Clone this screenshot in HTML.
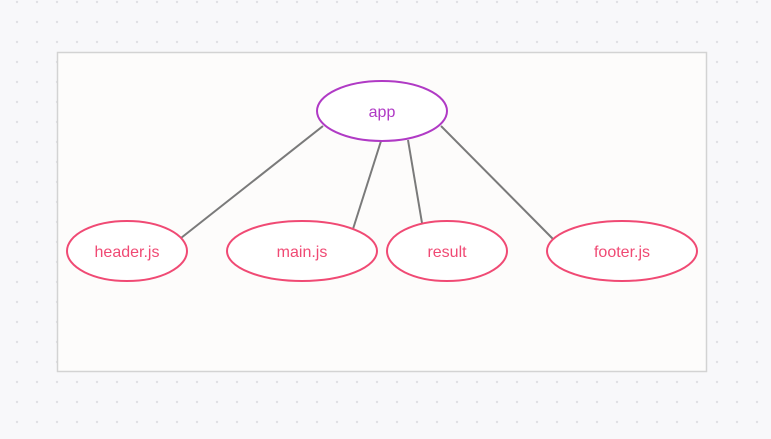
<!DOCTYPE html>
<html><head><style>body{margin:0;background:#f8f8fa}</style></head><body>
<svg width="771" height="439" xmlns="http://www.w3.org/2000/svg" style="display:block">
<defs><pattern id="d" x="7" y="-8" width="20" height="20" patternUnits="userSpaceOnUse"><circle cx="10" cy="10" r="1.2" fill="#e0e0e4"/></pattern></defs>
<rect width="771" height="439" fill="#f8f8fa"/>
<rect width="771" height="439" fill="url(#d)"/>
<rect x="57.5" y="52.5" width="649" height="319" fill="#fdfcfb" stroke="#d3d3d3" stroke-width="1.5"/>
<g stroke="#7a7a7a" stroke-width="2">
<line x1="323" y1="126" x2="181" y2="238"/>
<line x1="381" y1="141" x2="353" y2="229"/>
<line x1="408" y1="140" x2="422" y2="223"/>
<line x1="441" y1="126" x2="553" y2="239"/>
</g>
<g fill="#fff" stroke-width="2">
<ellipse cx="382" cy="111" rx="65" ry="30" stroke="#b03ac5"/>
<ellipse cx="127" cy="251" rx="60" ry="30" stroke="#f04a74"/>
<ellipse cx="302" cy="251" rx="75" ry="30" stroke="#f04a74"/>
<ellipse cx="447" cy="251" rx="60" ry="30" stroke="#f04a74"/>
<ellipse cx="622" cy="251" rx="75" ry="30" stroke="#f04a74"/>
</g>
<g font-family="Liberation Sans, sans-serif" font-size="16" text-anchor="middle">
<text x="382" y="117" fill="#b03ac5">app</text>
<g fill="#f04a74">
<text x="127" y="257">header.js</text>
<text x="302" y="257">main.js</text>
<text x="447" y="257">result</text>
<text x="622" y="257">footer.js</text>
</g></g>
</svg>
</body></html>
